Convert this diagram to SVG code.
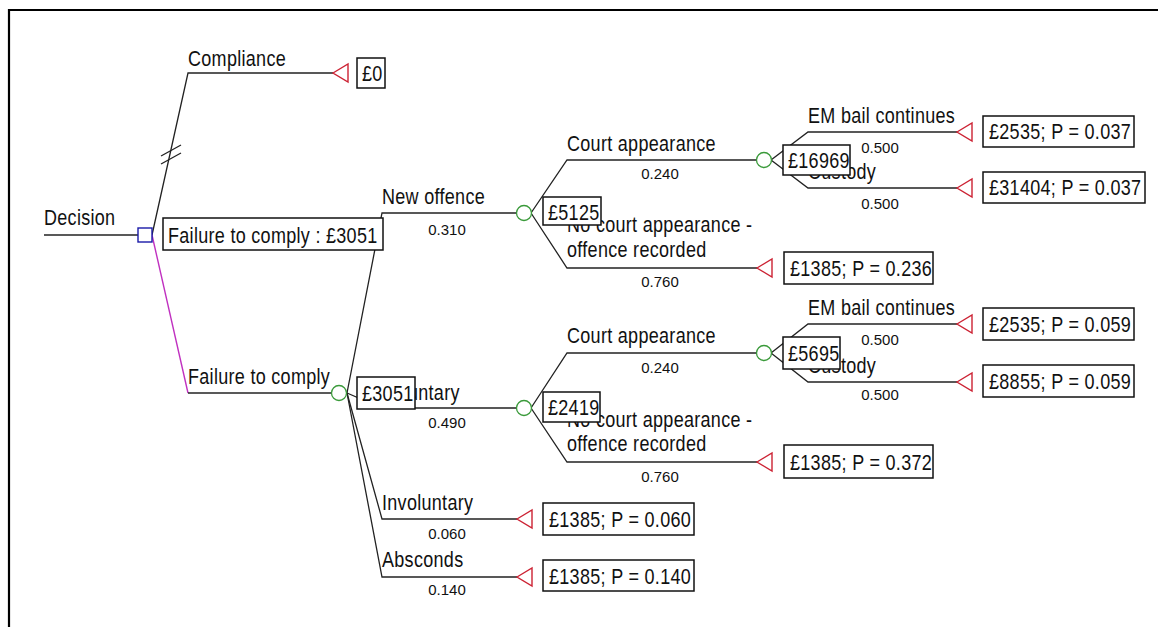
<svg xmlns="http://www.w3.org/2000/svg" width="1158" height="627" viewBox="0 0 1158 627">
<style>
.ln{stroke:#222;stroke-width:1.3;fill:none}
.mg{stroke:#c030c0;stroke-width:1.4;fill:none}
.ch{stroke:#3a9a3a;stroke-width:1.3;fill:#fff}
.tm{stroke:#cc2233;stroke-width:1.4;fill:#fff}
.dc{stroke:#1a1aa8;stroke-width:1.4;fill:#fff}
.bx{stroke:#111;stroke-width:1.5;fill:#fff}
.t{font-family:"Liberation Sans",Arial,sans-serif;font-size:18px;letter-spacing:0.3px;fill:#111}
.p{font-family:"Liberation Sans",Arial,sans-serif;font-size:15px;fill:#111;text-anchor:middle}
</style>
<defs>
<path id="tri" d="M0,0 L15,-9 L15,9 Z"/>
</defs>
<rect x="0" y="0" width="1158" height="627" fill="#fff"/>
<g id="frame" stroke="#000" stroke-width="2.2">
<line x1="8" y1="10" x2="1158" y2="10"/>
<line x1="9" y1="9" x2="9" y2="627"/>
</g>
<g id="connectors">
<line class="ln" x1="44" y1="235" x2="138" y2="235"/>
<polyline class="ln" points="152,235 188,73 333,73"/>
<line class="ln" x1="161" y1="156" x2="181" y2="145"/>
<line class="ln" x1="161" y1="164" x2="181" y2="153"/>
<line class="mg" x1="152" y1="235" x2="188" y2="393"/>
<line class="ln" x1="188" y1="393" x2="332" y2="393"/>
<polyline class="ln" points="347,393 382,213 517,213"/>
<polyline class="ln" points="347,393 382,408 517,408"/>
<polyline class="ln" points="347,393 382,519 517,519"/>
<polyline class="ln" points="347,393 382,577 517,577"/>
<polyline class="ln" points="531,213 567,160 757,160"/>
<polyline class="ln" points="531,213 567,268 757,268"/>
<polyline class="ln" points="771,160 808,132 957,132"/>
<polyline class="ln" points="771,160 808,188 957,188"/>
<polyline class="ln" points="531,408 567,353 757,353"/>
<polyline class="ln" points="531,408 567,462 757,462"/>
<polyline class="ln" points="771,353 808,324 957,324"/>
<polyline class="ln" points="771,353 808,382 957,382"/>
</g>
<g id="labels">
<text class="t" transform="translate(44,225) scale(1,1.2)">Decision</text>
<text class="t" transform="translate(188,66) scale(1,1.2)">Compliance</text>
<text class="t" transform="translate(188,384) scale(1,1.2)">Failure to comply</text>
<text class="t" transform="translate(382,204) scale(1,1.2)">New offence</text>
<text class="p" x="447" y="235">0.310</text>
<text class="t" transform="translate(382,400) scale(1,1.2)">Voluntary</text>
<text class="p" x="447" y="428">0.490</text>
<text class="t" transform="translate(382,510) scale(1,1.2)">Involuntary</text>
<text class="p" x="447" y="539">0.060</text>
<text class="t" transform="translate(382,567) scale(1,1.2)">Absconds</text>
<text class="p" x="447" y="595">0.140</text>
<text class="t" transform="translate(567,151) scale(1,1.2)">Court appearance</text>
<text class="p" x="660" y="179">0.240</text>
<text class="t" transform="translate(567,232) scale(1,1.2)">No court appearance -</text>
<text class="t" transform="translate(567,257) scale(1,1.2)">offence recorded</text>
<text class="p" x="660" y="287">0.760</text>
<text class="t" transform="translate(808,123) scale(1,1.2)">EM bail continues</text>
<text class="p" x="880" y="153">0.500</text>
<text class="t" transform="translate(808,179) scale(1,1.2)">Custody</text>
<text class="p" x="880" y="209">0.500</text>
<text class="t" transform="translate(567,343) scale(1,1.2)">Court appearance</text>
<text class="p" x="660" y="373">0.240</text>
<text class="t" transform="translate(567,427) scale(1,1.2)">No court appearance -</text>
<text class="t" transform="translate(567,451) scale(1,1.2)">offence recorded</text>
<text class="p" x="660" y="482">0.760</text>
<text class="t" transform="translate(808,315) scale(1,1.2)">EM bail continues</text>
<text class="p" x="880" y="345">0.500</text>
<text class="t" transform="translate(808,373) scale(1,1.2)">Custody</text>
<text class="p" x="880" y="400">0.500</text>
</g>
<g id="decision">
<rect class="dc" x="138" y="228" width="14" height="14"/>
<rect class="bx" x="163" y="218" width="220" height="32"/>
<text class="t" transform="translate(168,243) scale(1,1.2)">Failure to comply : £3051</text>
</g>
<g id="t-compliance">
<use href="#tri" class="tm" x="333" y="73"/>
<rect class="bx" x="357" y="58" width="28" height="30"/>
<text class="t" transform="translate(362,81) scale(1,1.2)">£0</text>
</g>
<g id="c-failure">
<circle class="ch" cx="339" cy="393" r="7.5"/>
<rect class="bx" x="357" y="377" width="58" height="32"/>
<text class="t" transform="translate(362,401) scale(1,1.2)">£3051</text>
</g>
<g id="c-newoffence">
<circle class="ch" cx="524" cy="213" r="7.5"/>
<rect class="bx" x="543" y="197" width="58" height="28"/>
<text class="t" transform="translate(548,220) scale(1,1.2)">£5125</text>
</g>
<g id="c-court1">
<circle class="ch" cx="764" cy="160" r="7.5"/>
<rect class="bx" x="783" y="145" width="67" height="30"/>
<text class="t" transform="translate(788,168) scale(1,1.2)">£16969</text>
</g>
<g id="t-embail1">
<use href="#tri" class="tm" x="957" y="132"/>
<rect class="bx" x="983" y="116" width="151" height="31"/>
<text class="t" transform="translate(989,139) scale(1,1.2)">£2535; P = 0.037</text>
</g>
<g id="t-custody1">
<use href="#tri" class="tm" x="957" y="188"/>
<rect class="bx" x="983" y="172" width="162" height="31"/>
<text class="t" transform="translate(989,195) scale(1,1.2)">£31404; P = 0.037</text>
</g>
<g id="t-nocourt1">
<use href="#tri" class="tm" x="757" y="268"/>
<rect class="bx" x="784" y="252" width="149" height="32"/>
<text class="t" transform="translate(790,276) scale(1,1.2)">£1385; P = 0.236</text>
</g>
<g id="c-voluntary">
<circle class="ch" cx="524" cy="408" r="7.5"/>
<rect class="bx" x="543" y="392" width="57" height="30"/>
<text class="t" transform="translate(548,415) scale(1,1.2)">£2419</text>
</g>
<g id="c-court2">
<circle class="ch" cx="764" cy="353" r="7.5"/>
<rect class="bx" x="783" y="337" width="57" height="32"/>
<text class="t" transform="translate(788,361) scale(1,1.2)">£5695</text>
</g>
<g id="t-embail2">
<use href="#tri" class="tm" x="957" y="324"/>
<rect class="bx" x="983" y="308" width="151" height="32"/>
<text class="t" transform="translate(989,332) scale(1,1.2)">£2535; P = 0.059</text>
</g>
<g id="t-custody2">
<use href="#tri" class="tm" x="957" y="382"/>
<rect class="bx" x="983" y="365" width="151" height="32"/>
<text class="t" transform="translate(989,389) scale(1,1.2)">£8855; P = 0.059</text>
</g>
<g id="t-nocourt2">
<use href="#tri" class="tm" x="757" y="462"/>
<rect class="bx" x="784" y="445" width="149" height="33"/>
<text class="t" transform="translate(790,470) scale(1,1.2)">£1385; P = 0.372</text>
</g>
<g id="t-involuntary">
<use href="#tri" class="tm" x="517" y="519"/>
<rect class="bx" x="543" y="503" width="151" height="32"/>
<text class="t" transform="translate(549,527) scale(1,1.2)">£1385; P = 0.060</text>
</g>
<g id="t-absconds">
<use href="#tri" class="tm" x="517" y="577"/>
<rect class="bx" x="543" y="560" width="151" height="31"/>
<text class="t" transform="translate(549,584) scale(1,1.2)">£1385; P = 0.140</text>
</g>
</svg>
